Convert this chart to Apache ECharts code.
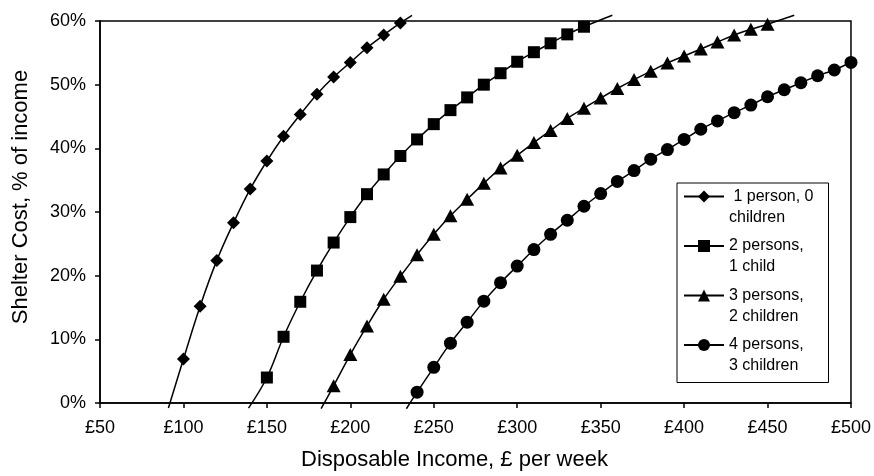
<!DOCTYPE html>
<html>
<head>
<meta charset="utf-8">
<script src="https://cdn.jsdelivr.net/npm/echarts@6/dist/echarts.min.js"></script>
<style>
html,body{margin:0;padding:0;background:#fff;}
#chart{width:874px;height:476px;}
</style>
</head>
<body>
<div id="chart"></div>
<script>
// ---- Data ----
const seriesNames = [' 1 person, 0\nchildren', '2 persons,\n1 child', '3 persons,\n2 children', '4 persons,\n3 children'];

const incomes1 = [100, 110, 120, 130, 140, 150, 160, 170, 180, 190, 200, 210, 220, 230];
const pct1 = [6.9, 15.2, 22.4, 28.3, 33.6, 38.0, 41.9, 45.3, 48.5, 51.2, 53.5, 55.8, 57.8, 59.7];
const lineEnds1 = [[91, -0.8], [237, 60.9]];

const incomes2 = [150, 160, 170, 180, 190, 200, 210, 220, 230, 240, 250, 260, 270, 280, 290, 300, 310, 320, 330, 340];
const pct2 = [4.0, 10.4, 15.9, 20.8, 25.2, 29.2, 32.8, 35.9, 38.8, 41.4, 43.8, 46.0, 48.0, 50.0, 51.8, 53.6, 55.1, 56.5, 57.9, 59.1];
const lineEnds2 = [[139, -0.8], [357, 60.9]];

const incomes3 = [190, 200, 210, 220, 230, 240, 250, 260, 270, 280, 290, 300, 310, 320, 330, 340, 350, 360, 370, 380, 390, 400, 410, 420, 430, 440, 450];
const pct3 = [2.7, 7.6, 12.1, 16.3, 19.9, 23.3, 26.5, 29.4, 32.0, 34.5, 36.9, 38.9, 40.9, 42.8, 44.7, 46.3, 47.9, 49.4, 50.8, 52.1, 53.4, 54.5, 55.6, 56.7, 57.8, 58.7, 59.5];
const lineEnds3 = [[182.5, -0.9], [466, 60.9]];

const incomes4 = [240, 250, 260, 270, 280, 290, 300, 310, 320, 330, 340, 350, 360, 370, 380, 390, 400, 410, 420, 430, 440, 450, 460, 470, 480, 490, 500];
const pct4 = [1.7, 5.6, 9.4, 12.7, 16.0, 18.9, 21.5, 24.1, 26.5, 28.7, 30.9, 32.9, 34.8, 36.5, 38.3, 39.8, 41.4, 43.0, 44.3, 45.6, 46.8, 48.1, 49.2, 50.3, 51.4, 52.3, 53.5];
const lineEnds4 = [[233.6, -0.9], [504, 53.9]];

const xTickLabels = ['£50', '£100', '£150', '£200', '£250', '£300', '£350', '£400', '£450', '£500'];
const yTickLabels = ['0%', '10%', '20%', '30%', '40%', '50%', '60%'];

// ---- Build ----
function buildData(inc, pct, ends) {
  const pts = inc.map((x, i) => [x, pct[i]]);
  return [{ value: ends[0], symbol: 'none' }].concat(pts, [{ value: ends[1], symbol: 'none' }]);
}
const FONT = '"Liberation Sans", Arial, Helvetica, sans-serif';
const symbols = [['diamond', 13], ['rect', 12], ['triangle', [14, 13]], ['circle', 13]];
const dataSets = [
  buildData(incomes1, pct1, lineEnds1),
  buildData(incomes2, pct2, lineEnds2),
  buildData(incomes3, pct3, lineEnds3),
  buildData(incomes4, pct4, lineEnds4)
];

const chart = echarts.init(document.getElementById('chart'), null, { renderer: 'canvas' });
chart.setOption({
  animation: false,
  backgroundColor: '#fff',
  grid: {
    left: 100, right: 23, top: 21, bottom: 72,
    show: true, borderColor: '#000', borderWidth: 1.5, backgroundColor: 'transparent'
  },
  xAxis: {
    type: 'value', min: 50, max: 500, interval: 50,
    name: 'Disposable Income, £ per week',
    nameLocation: 'middle', nameGap: 46,
    nameTextStyle: { fontFamily: FONT, fontSize: 22, color: '#000', padding: [0, 42, 0, 0] },
    axisLine: { show: true, lineStyle: { color: '#000', width: 1.5 } },
    axisTick: { show: true, length: 5, lineStyle: { color: '#000', width: 1.5 } },
    axisLabel: {
      fontFamily: FONT, fontSize: 18, color: '#000', margin: 16,
      formatter: v => xTickLabels[Math.round((v - 50) / 50)]
    },
    splitLine: { show: false }
  },
  yAxis: {
    type: 'value', min: 0, max: 60, interval: 10,
    name: 'Shelter Cost, % of income',
    nameLocation: 'middle', nameGap: 68,
    nameTextStyle: { fontFamily: FONT, fontSize: 22, color: '#000', padding: [0, 0, 0, 30] },
    axisLine: { show: true, lineStyle: { color: '#000', width: 1.5 } },
    axisTick: { show: true, length: 5, lineStyle: { color: '#000', width: 1.5 } },
    axisLabel: {
      fontFamily: FONT, fontSize: 18, color: '#000', margin: 14,
      formatter: v => yTickLabels[Math.round(v / 10)]
    },
    splitLine: { show: false }
  },
  legend: {
    orient: 'vertical',
    left: 677, top: 183,
    data: seriesNames,
    // leading empty line so the first text line sits level with the marker
    formatter: name => '\n' + name,
    itemWidth: 40, itemHeight: 15, itemGap: -13.5,
    padding: [-18, 15, 6, 6],
    borderColor: '#000', borderWidth: 1, backgroundColor: '#fff',
    textStyle: { fontFamily: FONT, fontSize: 16, color: '#000', lineHeight: 21 }
  },
  series: seriesNames.map((name, i) => ({
    name: name,
    type: 'line',
    data: dataSets[i],
    symbol: symbols[i][0],
    symbolSize: symbols[i][1],
    smooth: 0.4,
    clip: false,
    lineStyle: { color: '#000', width: 1.5 },
    itemStyle: { color: '#000', borderWidth: 0 },
    emphasis: { disabled: true }
  }))
});
</script>
</body>
</html>
